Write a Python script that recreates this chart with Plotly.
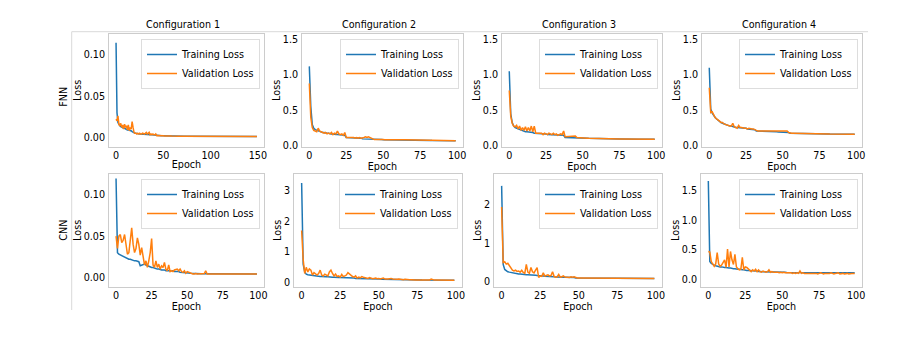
import plotly.graph_objects as go

# ---------------- data ----------------
CONFIG_TITLES = ["Configuration 1", "Configuration 2", "Configuration 3", "Configuration 4"]
ROW_LABELS = ["FNN", "CNN"]
SERIES_NAMES = ["Training Loss", "Validation Loss"]

FNN_C1_TRAIN = [
    0.115, 0.030, 0.018, 0.015, 0.014, 0.013, 0.012, 0.012, 0.011, 0.011,
    0.010, 0.010, 0.009, 0.009, 0.009, 0.008, 0.008, 0.007, 0.006, 0.005,
    0.005, 0.005, 0.0045, 0.0045, 0.0042, 0.004, 0.004, 0.004, 0.004, 0.004,
    0.0038, 0.0037, 0.0036, 0.0035, 0.0035, 0.0034, 0.0033, 0.0031, 0.003, 0.0028,
    0.0026, 0.0025, 0.0024, 0.0022, 0.0021, 0.002, 0.0019, 0.0019, 0.0018, 0.0018,
    0.0017, 0.0017, 0.0017, 0.0016, 0.0016, 0.0016, 0.0016, 0.0015, 0.0015, 0.0015,
    0.0015, 0.0015, 0.0014, 0.0014, 0.0014, 0.0014, 0.0014, 0.0014, 0.0014, 0.0013,
    0.0013, 0.0013, 0.0013, 0.0013, 0.0013, 0.0013, 0.0013, 0.0013, 0.0012, 0.0012,
    0.0012, 0.0012, 0.0012, 0.0012, 0.0012, 0.0012, 0.0012, 0.0012, 0.0012, 0.0012,
    0.0012, 0.0012, 0.0011, 0.0011, 0.0011, 0.0011, 0.0011, 0.0011, 0.0011, 0.0011,
    0.0011, 0.0011, 0.0011, 0.0011, 0.0011, 0.0011, 0.0011, 0.0011, 0.0011, 0.0011,
    0.0011, 0.0011, 0.0011, 0.0011, 0.0011, 0.0010, 0.0010, 0.0010, 0.0010, 0.0010,
    0.0010, 0.0010, 0.0010, 0.0010, 0.0010, 0.0010, 0.0010, 0.0010, 0.0010, 0.0010,
    0.0010, 0.0010, 0.0010, 0.0010, 0.0010, 0.0010, 0.0010, 0.0010, 0.0010, 0.0010,
    0.0010, 0.0010, 0.0010, 0.0010, 0.0010, 0.0010, 0.0010, 0.0010, 0.0010, 0.0010,
]
FNN_C1_VAL = [
    0.022, 0.020, 0.026, 0.016, 0.014, 0.017, 0.012, 0.015, 0.010, 0.016,
    0.012, 0.014, 0.009, 0.015, 0.008, 0.012, 0.010, 0.019, 0.012, 0.006,
    0.005, 0.005, 0.004, 0.005, 0.004, 0.005, 0.004, 0.004, 0.005, 0.004,
    0.004, 0.005, 0.006, 0.004, 0.005, 0.006, 0.003, 0.004, 0.003, 0.004,
    0.003, 0.003, 0.004, 0.002, 0.0022, 0.002, 0.0021, 0.002, 0.002, 0.0018,
    0.0018, 0.0017, 0.0018, 0.0017, 0.0016, 0.0017, 0.0016, 0.0016, 0.0016, 0.0015,
    0.0016, 0.0015, 0.0015, 0.0015, 0.0014, 0.0015, 0.0014, 0.0014, 0.0014, 0.0014,
    0.0013, 0.0014, 0.0013, 0.0013, 0.0013, 0.0013, 0.0013, 0.0013, 0.0013, 0.0012,
    0.0012, 0.0013, 0.0012, 0.0012, 0.0012, 0.0012, 0.0012, 0.0012, 0.0012, 0.0012,
    0.0012, 0.0012, 0.0011, 0.0012, 0.0011, 0.0011, 0.0011, 0.0011, 0.0011, 0.0011,
    0.0011, 0.0011, 0.0011, 0.0011, 0.0011, 0.0011, 0.0011, 0.0011, 0.0011, 0.0011,
    0.0011, 0.0011, 0.0011, 0.0011, 0.0011, 0.0010, 0.0011, 0.0010, 0.0010, 0.0010,
    0.0010, 0.0010, 0.0010, 0.0010, 0.0010, 0.0010, 0.0010, 0.0010, 0.0010, 0.0010,
    0.0010, 0.0010, 0.0010, 0.0010, 0.0010, 0.0010, 0.0010, 0.0010, 0.0010, 0.0010,
    0.0010, 0.0010, 0.0010, 0.0010, 0.0010, 0.0010, 0.0010, 0.0010, 0.0010, 0.0010,
]

FNN_C2_TRAIN = [
    1.12, 0.55, 0.30, 0.25, 0.23, 0.22, 0.21, 0.20, 0.20, 0.19,
    0.19, 0.18, 0.18, 0.18, 0.17, 0.17, 0.17, 0.16, 0.16, 0.16,
    0.16, 0.15, 0.15, 0.15, 0.15, 0.12, 0.12, 0.12, 0.12, 0.11,
    0.11, 0.11, 0.11, 0.11, 0.11, 0.11, 0.10, 0.10, 0.10, 0.10,
    0.10, 0.10, 0.10, 0.09, 0.09, 0.09, 0.09, 0.09, 0.09, 0.09,
    0.088, 0.088, 0.087, 0.087, 0.087, 0.086, 0.086, 0.086, 0.085, 0.085,
    0.085, 0.084, 0.084, 0.084, 0.083, 0.083, 0.083, 0.082, 0.082, 0.082,
    0.081, 0.081, 0.081, 0.080, 0.080, 0.080, 0.079, 0.079, 0.079, 0.078,
    0.078, 0.078, 0.078, 0.077, 0.077, 0.077, 0.077, 0.076, 0.076, 0.076,
    0.076, 0.076, 0.075, 0.075, 0.075, 0.075, 0.075, 0.075, 0.075, 0.075,
]
FNN_C2_VAL = [
    0.88, 0.40, 0.26, 0.22, 0.21, 0.20, 0.25, 0.21, 0.20, 0.19,
    0.18, 0.19, 0.17, 0.18, 0.17, 0.19, 0.16, 0.18, 0.17, 0.21,
    0.17, 0.16, 0.17, 0.15, 0.19, 0.12, 0.12, 0.13, 0.12, 0.12,
    0.12, 0.11, 0.12, 0.11, 0.12, 0.11, 0.11, 0.12, 0.13, 0.12,
    0.13, 0.12, 0.11, 0.09, 0.09, 0.09, 0.09, 0.10, 0.09, 0.09,
    0.090, 0.089, 0.090, 0.088, 0.089, 0.088, 0.089, 0.087, 0.088, 0.087,
    0.088, 0.087, 0.092, 0.086, 0.087, 0.086, 0.086, 0.085, 0.086, 0.085,
    0.084, 0.085, 0.084, 0.083, 0.083, 0.082, 0.082, 0.081, 0.081, 0.080,
    0.080, 0.080, 0.079, 0.079, 0.079, 0.078, 0.078, 0.078, 0.077, 0.077,
    0.077, 0.077, 0.076, 0.076, 0.076, 0.076, 0.076, 0.075, 0.075, 0.075,
]

FNN_C3_TRAIN = [
    1.05, 0.45, 0.33, 0.28, 0.26, 0.25, 0.24, 0.23, 0.22, 0.21,
    0.21, 0.20, 0.20, 0.20, 0.19, 0.19, 0.19, 0.18, 0.18, 0.18,
    0.18, 0.17, 0.17, 0.17, 0.17, 0.17, 0.16, 0.16, 0.16, 0.16,
    0.16, 0.16, 0.15, 0.15, 0.15, 0.15, 0.15, 0.15, 0.12, 0.12,
    0.12, 0.12, 0.12, 0.12, 0.12, 0.12, 0.12, 0.12, 0.11, 0.11,
    0.11, 0.11, 0.11, 0.11, 0.108, 0.107, 0.106, 0.105, 0.104, 0.103,
    0.102, 0.101, 0.100, 0.100, 0.100, 0.099, 0.099, 0.099, 0.098, 0.098,
    0.098, 0.098, 0.097, 0.097, 0.097, 0.097, 0.097, 0.096, 0.096, 0.096,
    0.096, 0.096, 0.096, 0.095, 0.095, 0.095, 0.095, 0.095, 0.095, 0.095,
    0.095, 0.094, 0.094, 0.094, 0.094, 0.094, 0.094, 0.094, 0.094, 0.094,
]
FNN_C3_VAL = [
    0.78, 0.42, 0.32, 0.28, 0.27, 0.29, 0.24, 0.28, 0.22, 0.26,
    0.22, 0.27, 0.21, 0.26, 0.21, 0.28, 0.20, 0.28, 0.18, 0.18,
    0.17, 0.17, 0.18, 0.16, 0.18, 0.17, 0.16, 0.18, 0.17, 0.16,
    0.18, 0.16, 0.17, 0.15, 0.16, 0.17, 0.16, 0.21, 0.13, 0.13,
    0.14, 0.13, 0.13, 0.14, 0.13, 0.14, 0.12, 0.12, 0.11, 0.11,
    0.11, 0.11, 0.112, 0.11, 0.108, 0.107, 0.107, 0.105, 0.104, 0.104,
    0.102, 0.101, 0.101, 0.100, 0.100, 0.100, 0.099, 0.099, 0.099, 0.098,
    0.098, 0.098, 0.098, 0.097, 0.097, 0.097, 0.097, 0.097, 0.096, 0.096,
    0.096, 0.096, 0.096, 0.096, 0.095, 0.095, 0.095, 0.095, 0.095, 0.095,
    0.095, 0.095, 0.094, 0.094, 0.094, 0.094, 0.094, 0.094, 0.094, 0.094,
]

FNN_C4_TRAIN = [
    1.10, 0.52, 0.46, 0.42, 0.40, 0.38, 0.36, 0.34, 0.33, 0.32,
    0.31, 0.30, 0.30, 0.29, 0.28, 0.28, 0.27, 0.27, 0.26, 0.26,
    0.26, 0.25, 0.25, 0.25, 0.25, 0.25, 0.24, 0.24, 0.24, 0.24,
    0.24, 0.23, 0.21, 0.21, 0.21, 0.21, 0.21, 0.205, 0.205, 0.20,
    0.20, 0.20, 0.20, 0.20, 0.20, 0.20, 0.20, 0.195, 0.195, 0.195,
    0.19, 0.19, 0.19, 0.19, 0.19, 0.18, 0.18, 0.18, 0.18, 0.18,
    0.18, 0.18, 0.178, 0.178, 0.177, 0.177, 0.176, 0.176, 0.175, 0.175,
    0.175, 0.174, 0.174, 0.173, 0.173, 0.172, 0.172, 0.171, 0.171, 0.170,
    0.170, 0.170, 0.169, 0.169, 0.168, 0.168, 0.168, 0.167, 0.167, 0.167,
    0.166, 0.166, 0.166, 0.166, 0.165, 0.165, 0.165, 0.165, 0.165, 0.165,
]
FNN_C4_VAL = [
    0.82, 0.47, 0.48, 0.43, 0.40, 0.38, 0.37, 0.35, 0.33, 0.33,
    0.31, 0.30, 0.30, 0.29, 0.28, 0.28, 0.32, 0.27, 0.26, 0.25,
    0.29, 0.26, 0.26, 0.25, 0.25, 0.25, 0.24, 0.25, 0.24, 0.24,
    0.24, 0.23, 0.21, 0.21, 0.21, 0.21, 0.21, 0.21, 0.20, 0.20,
    0.20, 0.20, 0.20, 0.20, 0.20, 0.20, 0.20, 0.20, 0.20, 0.20,
    0.20, 0.20, 0.20, 0.21, 0.19, 0.18, 0.18, 0.18, 0.18, 0.18,
    0.18, 0.18, 0.178, 0.178, 0.177, 0.177, 0.176, 0.176, 0.175, 0.175,
    0.178, 0.174, 0.174, 0.173, 0.173, 0.172, 0.172, 0.171, 0.171, 0.170,
    0.170, 0.170, 0.169, 0.169, 0.168, 0.168, 0.168, 0.167, 0.167, 0.167,
    0.166, 0.166, 0.166, 0.166, 0.165, 0.165, 0.165, 0.165, 0.165, 0.165,
]

CNN_C1_TRAIN = [
    0.120, 0.030, 0.028, 0.027, 0.026, 0.025, 0.025, 0.024, 0.023, 0.022,
    0.022, 0.021, 0.021, 0.020, 0.020, 0.019, 0.019, 0.014, 0.015, 0.016,
    0.016, 0.015, 0.014, 0.014, 0.013, 0.012, 0.012, 0.011, 0.011, 0.010,
    0.010, 0.009, 0.009, 0.009, 0.009, 0.008, 0.008, 0.008, 0.008, 0.008,
    0.008, 0.007, 0.007, 0.007, 0.007, 0.006, 0.006, 0.006, 0.006, 0.006,
    0.0055, 0.0052, 0.0050, 0.0048, 0.0045, 0.0044, 0.0044, 0.0043, 0.0043, 0.0042,
    0.0042, 0.0042, 0.0042, 0.0041, 0.0041, 0.0041, 0.0041, 0.0041, 0.0041, 0.0040,
    0.0040, 0.0040, 0.0040, 0.0040, 0.0040, 0.0040, 0.0040, 0.0040, 0.0040, 0.0040,
    0.0040, 0.0040, 0.0040, 0.0040, 0.0040, 0.0040, 0.0040, 0.0040, 0.0040, 0.0040,
    0.0040, 0.0040, 0.0040, 0.0040, 0.0040, 0.0040, 0.0040, 0.0040, 0.0040, 0.0040,
]
CNN_C1_VAL = [
    0.050, 0.035, 0.050, 0.052, 0.042, 0.045, 0.052, 0.040, 0.028, 0.030,
    0.045, 0.060, 0.040, 0.030, 0.035, 0.048, 0.040, 0.027, 0.036, 0.022,
    0.015, 0.020, 0.012, 0.020, 0.030, 0.047, 0.015, 0.012, 0.020, 0.012,
    0.016, 0.010, 0.014, 0.012, 0.018, 0.010, 0.008, 0.015, 0.007, 0.008,
    0.007, 0.009, 0.010, 0.010, 0.008, 0.010, 0.007, 0.006, 0.008, 0.005,
    0.007, 0.006, 0.005, 0.0042, 0.0040, 0.0040, 0.0045, 0.0040, 0.0040, 0.0042,
    0.0040, 0.0040, 0.0045, 0.0080, 0.0040, 0.0040, 0.0042, 0.0040, 0.0040, 0.0040,
    0.0040, 0.0040, 0.0045, 0.0040, 0.0040, 0.0040, 0.0041, 0.0040, 0.0040, 0.0040,
    0.0040, 0.0040, 0.0040, 0.0040, 0.0040, 0.0040, 0.0040, 0.0040, 0.0040, 0.0040,
    0.0040, 0.0040, 0.0040, 0.0040, 0.0040, 0.0040, 0.0040, 0.0040, 0.0040, 0.0040,
]

CNN_C2_TRAIN = [
    3.25, 0.60, 0.35, 0.28, 0.26, 0.25, 0.24, 0.23, 0.22, 0.21,
    0.21, 0.20, 0.20, 0.20, 0.19, 0.19, 0.19, 0.19, 0.18, 0.18,
    0.18, 0.18, 0.17, 0.17, 0.17, 0.17, 0.17, 0.16, 0.16, 0.16,
    0.16, 0.16, 0.15, 0.15, 0.15, 0.14, 0.14, 0.14, 0.14, 0.14,
    0.13, 0.13, 0.13, 0.13, 0.13, 0.13, 0.12, 0.12, 0.12, 0.12,
    0.12, 0.12, 0.11, 0.11, 0.11, 0.11, 0.11, 0.11, 0.11, 0.10,
    0.10, 0.10, 0.10, 0.10, 0.10, 0.10, 0.095, 0.095, 0.095, 0.095,
    0.09, 0.09, 0.09, 0.09, 0.09, 0.09, 0.09, 0.09, 0.085, 0.085,
    0.085, 0.085, 0.085, 0.085, 0.085, 0.085, 0.085, 0.08, 0.08, 0.08,
    0.08, 0.08, 0.08, 0.08, 0.08, 0.08, 0.08, 0.08, 0.08, 0.08,
]
CNN_C2_VAL = [
    1.70, 0.75, 0.30, 0.50, 0.35, 0.45, 0.41, 0.25, 0.33, 0.28,
    0.25, 0.30, 0.41, 0.25, 0.22, 0.28, 0.25, 0.22, 0.35, 0.41,
    0.30, 0.22, 0.28, 0.20, 0.22, 0.18, 0.27, 0.20, 0.22, 0.25,
    0.33, 0.28, 0.22, 0.20, 0.18, 0.22, 0.15, 0.18, 0.16, 0.20,
    0.18, 0.16, 0.15, 0.14, 0.17, 0.15, 0.13, 0.14, 0.15, 0.13,
    0.14, 0.12, 0.13, 0.15, 0.12, 0.11, 0.12, 0.13, 0.14, 0.12,
    0.11, 0.12, 0.11, 0.12, 0.11, 0.12, 0.10, 0.11, 0.10, 0.10,
    0.10, 0.10, 0.09, 0.10, 0.09, 0.09, 0.09, 0.09, 0.09, 0.09,
    0.09, 0.09, 0.09, 0.09, 0.12, 0.09, 0.085, 0.085, 0.085, 0.085,
    0.085, 0.085, 0.08, 0.08, 0.08, 0.08, 0.08, 0.08, 0.08, 0.08,
]

CNN_C3_TRAIN = [
    2.50, 0.45, 0.32, 0.28, 0.26, 0.25, 0.24, 0.23, 0.22, 0.21,
    0.21, 0.20, 0.20, 0.19, 0.19, 0.19, 0.18, 0.18, 0.18, 0.17,
    0.17, 0.17, 0.17, 0.16, 0.16, 0.15, 0.15, 0.15, 0.14, 0.14,
    0.13, 0.13, 0.13, 0.13, 0.13, 0.12, 0.12, 0.12, 0.12, 0.12,
    0.12, 0.12, 0.11, 0.11, 0.11, 0.11, 0.11, 0.11, 0.10, 0.10,
    0.10, 0.10, 0.10, 0.10, 0.10, 0.095, 0.095, 0.095, 0.095, 0.09,
    0.09, 0.09, 0.09, 0.09, 0.09, 0.09, 0.09, 0.09, 0.09, 0.09,
    0.088, 0.088, 0.088, 0.088, 0.087, 0.087, 0.087, 0.087, 0.086, 0.086,
    0.086, 0.086, 0.086, 0.085, 0.085, 0.085, 0.085, 0.085, 0.085, 0.085,
    0.085, 0.085, 0.085, 0.085, 0.085, 0.085, 0.085, 0.085, 0.085, 0.085,
]
CNN_C3_VAL = [
    1.95, 0.50, 0.52, 0.46, 0.48, 0.42, 0.35, 0.30, 0.28, 0.30,
    0.27, 0.28, 0.25, 0.30, 0.24, 0.22, 0.45, 0.25, 0.22, 0.37,
    0.26, 0.23, 0.30, 0.37, 0.11, 0.15, 0.14, 0.23, 0.15, 0.16,
    0.18, 0.15, 0.16, 0.26, 0.14, 0.12, 0.13, 0.19, 0.12, 0.13,
    0.15, 0.12, 0.11, 0.12, 0.11, 0.13, 0.12, 0.13, 0.11, 0.10,
    0.10, 0.10, 0.09, 0.10, 0.09, 0.09, 0.10, 0.09, 0.09, 0.09,
    0.09, 0.09, 0.09, 0.09, 0.09, 0.09, 0.09, 0.09, 0.09, 0.09,
    0.088, 0.088, 0.088, 0.088, 0.087, 0.087, 0.087, 0.087, 0.086, 0.086,
    0.086, 0.086, 0.086, 0.085, 0.085, 0.085, 0.085, 0.085, 0.085, 0.085,
    0.085, 0.085, 0.085, 0.085, 0.085, 0.085, 0.085, 0.085, 0.085, 0.085,
]

CNN_C4_TRAIN = [
    1.66, 0.30, 0.27, 0.25, 0.24, 0.23, 0.22, 0.22, 0.21, 0.21,
    0.20, 0.20, 0.20, 0.19, 0.19, 0.19, 0.18, 0.18, 0.18, 0.17,
    0.17, 0.17, 0.16, 0.16, 0.16, 0.15, 0.15, 0.15, 0.15, 0.14,
    0.14, 0.14, 0.14, 0.14, 0.13, 0.13, 0.13, 0.13, 0.13, 0.13,
    0.13, 0.13, 0.12, 0.12, 0.12, 0.12, 0.12, 0.12, 0.12, 0.12,
    0.12, 0.12, 0.12, 0.115, 0.115, 0.115, 0.115, 0.115, 0.11, 0.11,
    0.11, 0.11, 0.11, 0.11, 0.11, 0.11, 0.11, 0.11, 0.11, 0.11,
    0.11, 0.11, 0.11, 0.11, 0.11, 0.11, 0.11, 0.11, 0.11, 0.11,
    0.11, 0.11, 0.11, 0.11, 0.11, 0.11, 0.11, 0.11, 0.11, 0.11,
    0.11, 0.11, 0.11, 0.11, 0.11, 0.11, 0.11, 0.11, 0.11, 0.11,
]
CNN_C4_VAL = [
    0.47, 0.46, 0.30, 0.25, 0.22, 0.26, 0.45, 0.26, 0.22, 0.24,
    0.28, 0.33, 0.20, 0.51, 0.21, 0.47, 0.33, 0.25, 0.42, 0.21,
    0.18, 0.16, 0.17, 0.37, 0.16, 0.21, 0.20, 0.18, 0.15, 0.13,
    0.16, 0.14, 0.17, 0.13, 0.16, 0.13, 0.12, 0.14, 0.13, 0.12,
    0.13, 0.16, 0.12, 0.13, 0.12, 0.12, 0.13, 0.12, 0.11, 0.12,
    0.11, 0.12, 0.11, 0.11, 0.12, 0.11, 0.11, 0.10, 0.11, 0.10,
    0.11, 0.10, 0.14, 0.10, 0.11, 0.10, 0.10, 0.11, 0.10, 0.10,
    0.10, 0.11, 0.10, 0.10, 0.09, 0.10, 0.11, 0.10, 0.09, 0.10,
    0.10, 0.09, 0.10, 0.11, 0.10, 0.09, 0.10, 0.10, 0.11, 0.09,
    0.10, 0.10, 0.09, 0.10, 0.10, 0.09, 0.10, 0.10, 0.10, 0.10,
]

TRAIN = [[FNN_C1_TRAIN, FNN_C2_TRAIN, FNN_C3_TRAIN, FNN_C4_TRAIN],
         [CNN_C1_TRAIN, CNN_C2_TRAIN, CNN_C3_TRAIN, CNN_C4_TRAIN]]
VAL = [[FNN_C1_VAL, FNN_C2_VAL, FNN_C3_VAL, FNN_C4_VAL],
       [CNN_C1_VAL, CNN_C2_VAL, CNN_C3_VAL, CNN_C4_VAL]]

X_TICKS = [[[0, 50, 100, 150], [0, 25, 50, 75, 100], [0, 25, 50, 75, 100], [0, 25, 50, 75, 100]],
           [[0, 25, 50, 75, 100]] * 4]
Y_TICKS = [[[0, 0.05, 0.10], [0, 0.5, 1.0, 1.5], [0, 0.5, 1.0, 1.5], [0, 0.5, 1.0, 1.5]],
           [[0, 0.05, 0.10], [0, 1, 2, 3], [0, 1, 2], [0, 0.5, 1.0, 1.5]]]
Y_FORMATS = [[".2f", ".1f", ".1f", ".1f"], [".2f", "d", "d", ".1f"]]
Y_RANGES = [[[-0.0114, 0.1255], [-0.01, 1.575], [-0.01, 1.575], [-0.01, 1.575]],
            [[-0.0114, 0.1255], [-0.13, 3.54], [-0.13, 2.81], [-0.125, 1.78]]]

# ---------------- layout geometry (pixels) ----------------
W, H = 918, 342
X_DOM_PX = [[(109, 264), (302, 463), (502, 662), (702, 862)],
            [(109, 264), (294, 462), (494, 662), (701, 862)]]
Y_DOM_PX = [(34, 146.7), (174, 286.7)]

BLUE = "#1f77b4"
ORANGE = "#ff7f0e"
FONT = "DejaVu Sans"
FS = 9.6
TXT = "#000000"
SPINE = "#cccccc"

fig = go.Figure()
layout = dict(
    width=W, height=H,
    margin=dict(l=0, r=0, t=0, b=0, autoexpand=False),
    paper_bgcolor="white", plot_bgcolor="white",
    font=dict(family=FONT, size=FS, color=TXT),
    showlegend=True,
)

for r in range(2):
    for c in range(4):
        k = r * 4 + c + 1
        sfx = "" if k == 1 else str(k)
        leg = "legend" + sfx
        train = TRAIN[r][c]
        val = VAL[r][c]
        n = len(train)
        fig.add_trace(go.Scatter(x=list(range(n)), y=train, mode="lines", name=SERIES_NAMES[0],
                                 line=dict(color=BLUE, width=1.5),
                                 xaxis="x" + sfx, yaxis="y" + sfx, legend=leg))
        fig.add_trace(go.Scatter(x=list(range(len(val))), y=val, mode="lines", name=SERIES_NAMES[1],
                                 line=dict(color=ORANGE, width=1.5),
                                 xaxis="x" + sfx, yaxis="y" + sfx, legend=leg))
        x0, x1 = X_DOM_PX[r][c]
        yt, yb = Y_DOM_PX[r]
        pad = 0.05 * (n - 1)
        layout["xaxis" + sfx] = dict(
            domain=[x0 / W, x1 / W], anchor="y" + sfx, automargin=False,
            range=[-pad, (n - 1) + pad],
            tickvals=X_TICKS[r][c], ticks="", showgrid=False, zeroline=False,
            showline=True, mirror=True, linecolor=SPINE, linewidth=1,
            tickfont=dict(size=FS, color=TXT), ticklabelstandoff=0,
            title=dict(text="Epoch", font=dict(size=FS, color=TXT), standoff=1),
        )
        layout["yaxis" + sfx] = dict(
            domain=[1 - yb / H, 1 - yt / H], anchor="x" + sfx, automargin=False,
            range=Y_RANGES[r][c], tickvals=Y_TICKS[r][c], tickformat=Y_FORMATS[r][c],
            ticks="", showgrid=False, zeroline=False,
            showline=True, mirror=True, linecolor=SPINE, linewidth=1,
            tickfont=dict(size=FS, color=TXT), ticklabelstandoff=1,
            title=dict(text="Loss", font=dict(size=FS, color=TXT), standoff=0),
        )
        layout[leg] = dict(
            x=(x1 - 4) / W, y=1 - (yt + 5) / H, xanchor="right", yanchor="top",
            bgcolor="rgba(255,255,255,0.85)", bordercolor="#dddddd", borderwidth=1,
            font=dict(size=FS, color=TXT), tracegroupgap=0, itemwidth=30,
        )

annotations = []
TITLE_X_PX = [182.5, 379, 579, 779]
for c in range(4):
    annotations.append(dict(text=CONFIG_TITLES[c], x=TITLE_X_PX[c] / W, y=1 - 25 / H,
                            xref="paper", yref="paper", xanchor="center", yanchor="middle",
                            showarrow=False, font=dict(size=FS, color=TXT)))
ROW_Y_PX = [97, 230]
for r in range(2):
    annotations.append(dict(text=ROW_LABELS[r], x=62.7 / W, y=1 - ROW_Y_PX[r] / H,
                            xref="paper", yref="paper", xanchor="center", yanchor="middle",
                            textangle=-90, showarrow=False, font=dict(size=FS, color=TXT)))
layout["annotations"] = annotations

FRAME = "#d9d9d9"
layout["shapes"] = [
    dict(type="line", xref="paper", yref="paper", x0=71.7 / W, x1=868 / W,
         y0=1 - 31.7 / H, y1=1 - 31.7 / H, line=dict(color=FRAME, width=1)),
    dict(type="line", xref="paper", yref="paper", x0=71.7 / W, x1=71.7 / W,
         y0=1 - 31.7 / H, y1=1 - 310 / H, line=dict(color=FRAME, width=1)),
]

fig.update_layout(**layout)
fig.write_html("out.html",
               config={"displayModeBar": False},
               post_script="document.body.style.margin='0px';document.body.style.padding='0px';")
